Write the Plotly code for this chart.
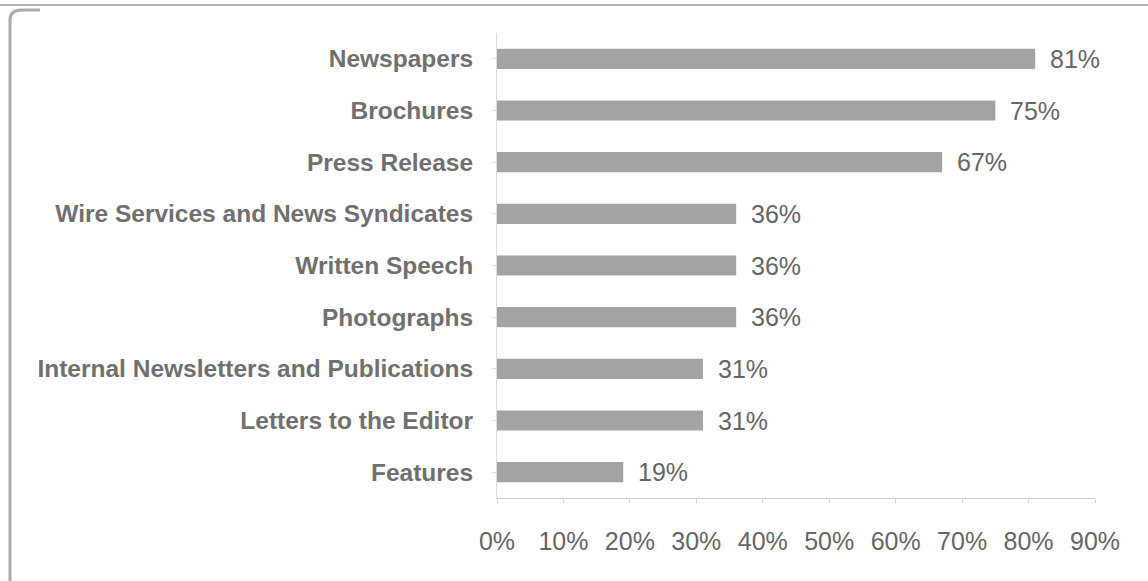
import plotly.graph_objects as go

# Media types and share of respondents using each
categories = [
    "Newspapers",
    "Brochures",
    "Press Release",
    "Wire Services and News Syndicates",
    "Written Speech",
    "Photographs",
    "Internal Newsletters and Publications",
    "Letters to the Editor",
    "Features",
]
values = [81, 75, 67, 36, 36, 36, 31, 31, 19]
tick_values = [0, 10, 20, 30, 40, 50, 60, 70, 80, 90]
tick_labels = [f"{v}%" for v in tick_values]

text_color = "#666666"
font_family = "Liberation Sans, Arial, sans-serif"

W, H = 1148, 581
L, R, T, B = 497, 53, 33, 83
PW, PH = W - L - R, H - T - B


def px_x(px):
    return (px - L) / PW


def px_y(py):
    return (H - B - py) / PH


fig = go.Figure(
    go.Bar(
        x=values,
        y=categories,
        orientation="h",
        marker=dict(color="#a3a3a3", line=dict(width=0)),
        width=0.39,
        hoverinfo="x+y",
    )
)

# Value labels to the right of each bar
for cat, val in zip(categories, values):
    fig.add_annotation(
        x=val, y=cat, text=f"{val}%", showarrow=False,
        xanchor="left", yanchor="middle", xshift=13,
        font=dict(size=25, color=text_color, family=font_family),
    )

fig.update_layout(
    width=W,
    height=H,
    margin=dict(l=L, r=R, t=T, b=B),
    paper_bgcolor="white",
    plot_bgcolor="white",
    showlegend=False,
    font=dict(family=font_family, color=text_color, size=24),
    xaxis=dict(
        range=[0, 90],
        tickvals=tick_values,
        ticktext=tick_labels,
        showgrid=False,
        zeroline=False,
        showline=True,
        linecolor="#cccccc",
        linewidth=1,
        ticks="outside",
        ticklen=4,
        tickcolor="#d4d4d4",
        ticklabelstandoff=17,
        tickfont=dict(size=25, color=text_color),
        fixedrange=True,
    ),
    yaxis=dict(
        autorange=False,
        range=[8.5, -0.5],
        categoryorder="array",
        categoryarray=categories,
        showgrid=False,
        zeroline=False,
        showline=True,
        linecolor="#dddddd",
        linewidth=1,
        ticks="outside",
        ticklen=4,
        tickcolor="#e0e0e0",
        ticklabelstandoff=14,
        tickfont=dict(size=24.5, color="#707070", weight="bold"),
        fixedrange=True,
    ),
)

# Frame lines along the top and left edges of the figure
fig.add_shape(type="line", xref="paper", yref="paper",
              x0=px_x(0), x1=px_x(W), y0=px_y(5), y1=px_y(5),
              line=dict(color="#b4b4b4", width=2))
fig.add_shape(type="path", xref="paper", yref="paper",
              path=(f"M {px_x(10)},{px_y(H)} L {px_x(10)},{px_y(20)} "
                    f"Q {px_x(10)},{px_y(10)} {px_x(22)},{px_y(10)} "
                    f"L {px_x(40)},{px_y(10)}"),
              line=dict(color="#acacac", width=3))

fig.write_html("out.html")
